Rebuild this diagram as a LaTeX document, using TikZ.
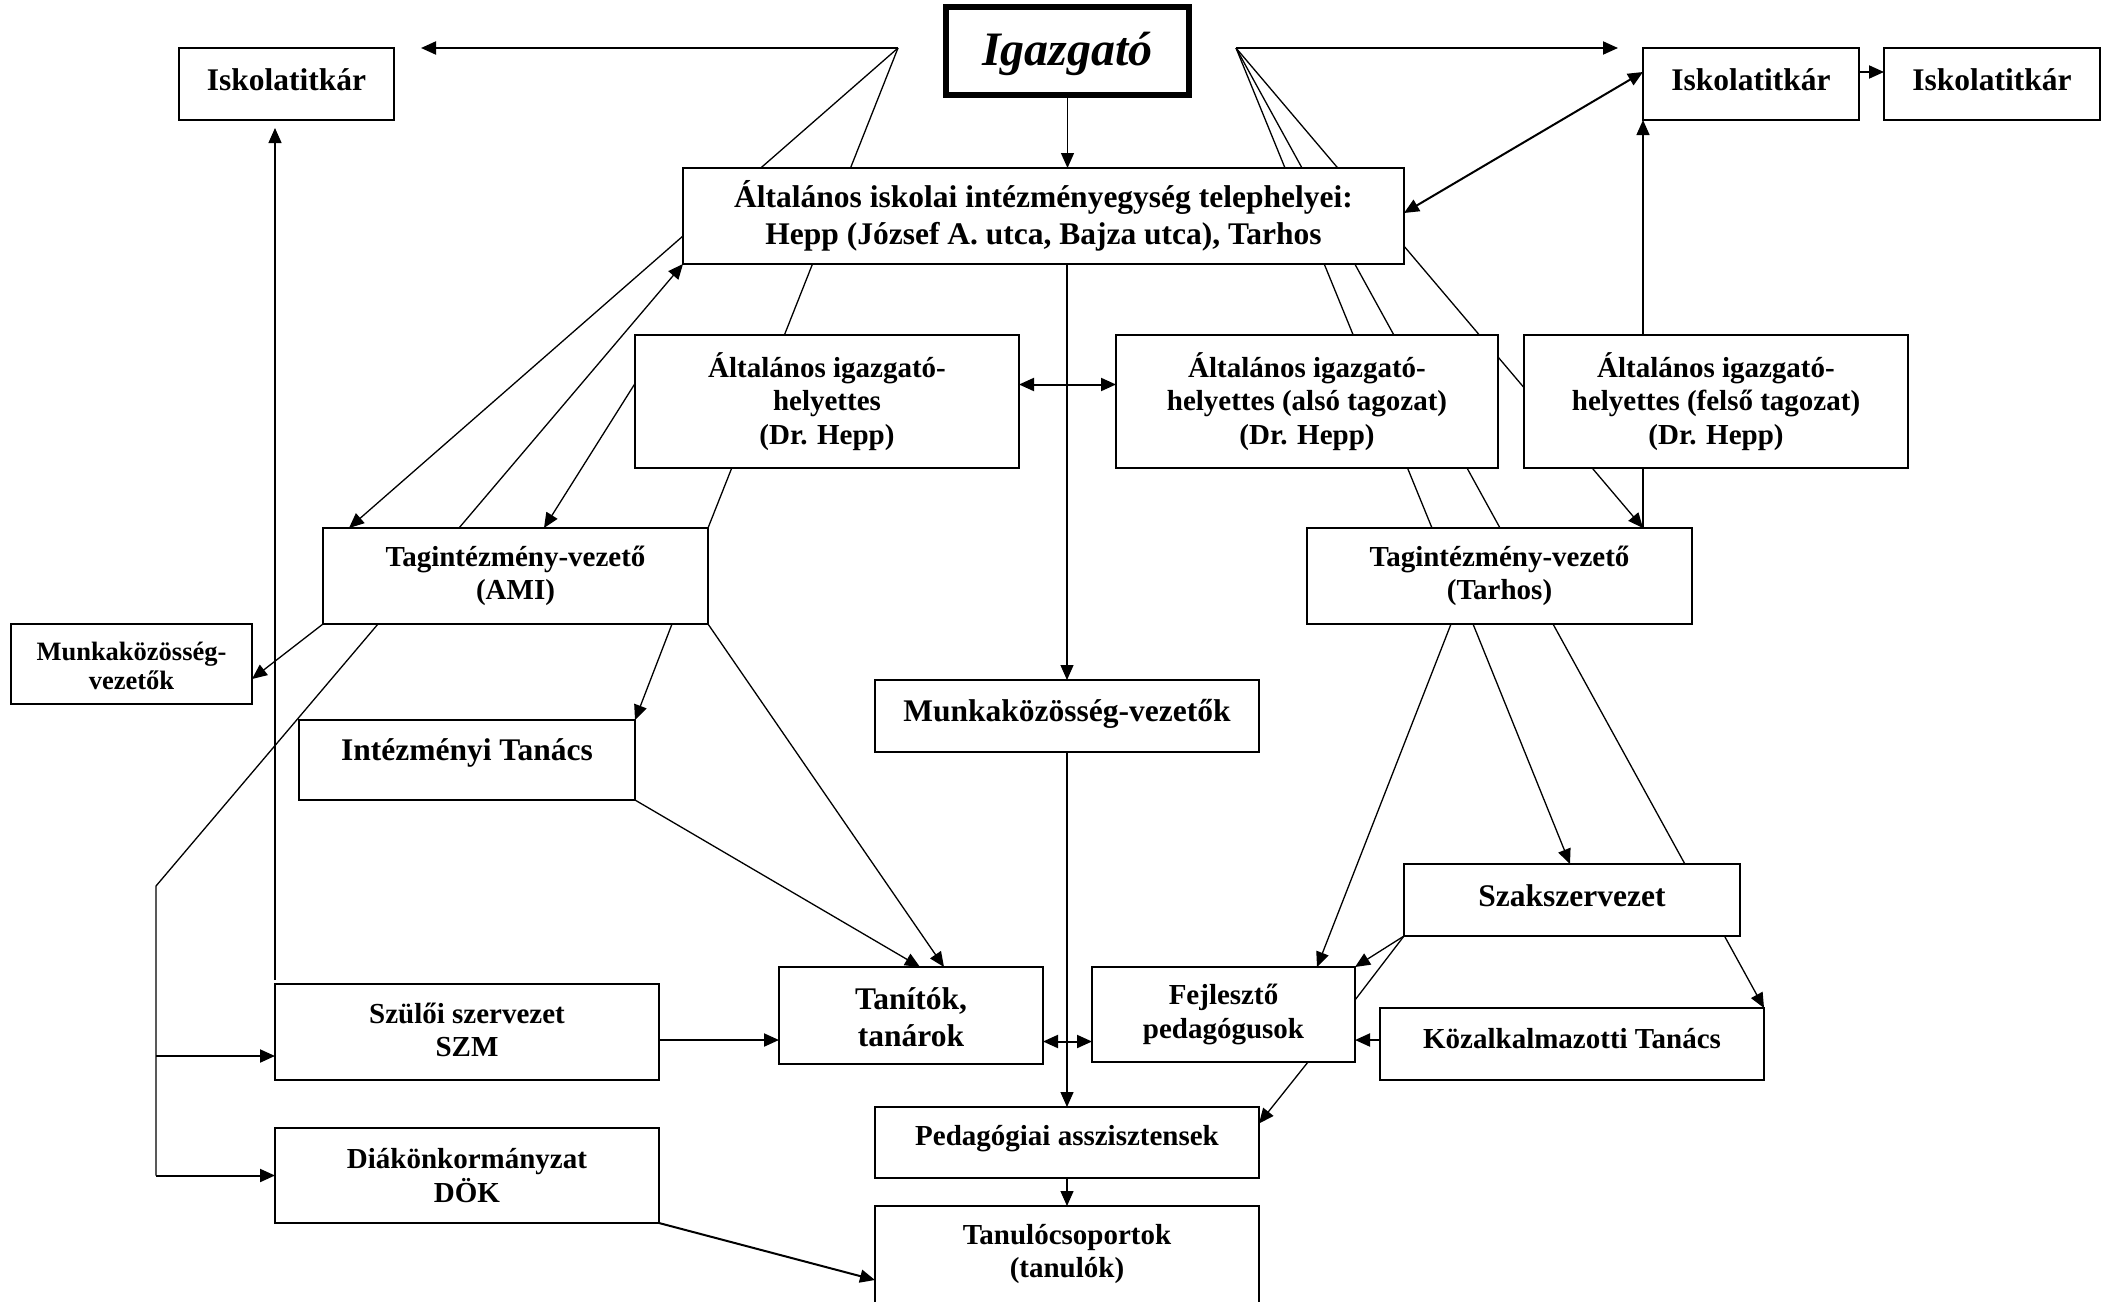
\documentclass[tikz,border=0pt]{standalone}
\usepackage{fontspec}
\setmainfont{Liberation Serif}
\usetikzlibrary{fit,arrows.meta,backgrounds}
\begin{document}
\begin{tikzpicture}[x=1pt,y=-1pt,
  box/.style={draw, fill=white, line width=2pt, inner sep=0pt, outer sep=0pt},
  txt/.style={font=\bfseries\fontsize{29}{33.7}\selectfont, align=center, inner sep=0pt},
  txtb/.style={txt, font=\bfseries\fontsize{31.5}{37.5}\selectfont},
  txts/.style={txt, font=\bfseries\fontsize{26.5}{29.6}\selectfont},
  thinln/.style={line width=1.3pt},
  thickln/.style={line width=2pt},
  arr/.style={-{Triangle[length=15pt,width=13pt]}},
  darr/.style={{Triangle[length=15pt,width=13pt]}-{Triangle[length=15pt,width=13pt]}}]
\useasboundingbox (0,0) rectangle (2111,1301);
\clip (0,0) rectangle (2111,1301);

% boxes
\node[box, line width=5.5pt, fit={(946,7) (1189,95)}] (igaz) {};
\node[box, fit={(179,48) (394,120)}] (isk1) {};
\node[box, fit={(1643,48) (1859,120)}] (isk2) {};
\node[box, fit={(1884,48) (2100,120)}] (isk3) {};
\node[box, fit={(683,168) (1404,264)}] (alt) {};
\node[box, fit={(635,335) (1019,468)}] (igh1) {};
\node[box, fit={(1116,335) (1498,468)}] (igh2) {};
\node[box, fit={(1524,335) (1908,468)}] (igh3) {};
\node[box, fit={(323,528) (708,624)}] (tagA) {};
\node[box, fit={(1307,528) (1692,624)}] (tagT) {};
\node[box, fit={(11,624) (252,704)}] (munkL) {};
\node[box, fit={(875,680) (1259,752)}] (munkC) {};
\node[box, fit={(299,720) (635,800)}] (int) {};
\node[box, fit={(1404,864) (1740,936)}] (szak) {};
\node[box, fit={(779,967) (1043,1064)}] (tan) {};
\node[box, fit={(1092,967) (1355,1062)}] (fej) {};
\node[box, fit={(1380,1008) (1764,1080)}] (kozalk) {};
\node[box, fit={(275,984) (659,1080)}] (szul) {};
\node[box, fit={(875,1107) (1259,1178)}] (ped) {};
\node[box, fit={(275,1128) (659,1223)}] (dok) {};
\node[box, fit={(875,1206) (1259,1340)}] (tcs) {};

% texts
\node[txt, font=\bfseries\itshape\fontsize{48}{56}\selectfont] (t-igaz) at ([yshift=-2.5pt]igaz.center) {Igazgató};
\node[txtb] (t-isk1) at ([yshift=4pt]isk1.center) {Iskolatitkár};
\node[txtb] (t-isk2) at ([yshift=4pt]isk2.center) {Iskolatitkár};
\node[txtb] (t-isk3) at ([yshift=4pt]isk3.center) {Iskolatitkár};
\node[txtb] (t-alt) at (alt.center) {Általános iskolai intézményegység telephelyei:\\Hepp (József A. utca, Bajza utca), Tarhos};
\node[txt] (t-igh1) at (igh1.center) {Általános igazgató-\\helyettes\\(Dr. Hepp)};
\node[txt] (t-igh2) at (igh2.center) {Általános igazgató-\\helyettes (alsó tagozat)\\(Dr. Hepp)};
\node[txt] (t-igh3) at (igh3.center) {Általános igazgató-\\helyettes (felső tagozat)\\(Dr. Hepp)};
\node[txt] (t-tagA) at (tagA.center) {Tagintézmény-vezető\\(AMI)};
\node[txt] (t-tagT) at (tagT.center) {Tagintézmény-vezető\\(Tarhos)};
\node[txts] (t-munkL) at ([yshift=-2pt]munkL.center) {Munkaközösség-\\vezetők};
\node[txtb] (t-munkC) at ([yshift=2.5pt]munkC.center) {Munkaközösség-vezetők};
\node[txtb] (t-int) at ([yshift=7pt]int.center) {Intézményi Tanács};
\node[txtb] (t-szak) at ([yshift=4.5pt]szak.center) {Szakszervezet};
\node[txtb] (t-tan) at ([yshift=-1.5pt]tan.center) {Tanítók,\\tanárok};
\node[txt] (t-fej) at (fej.center) {Fejlesztő\\pedagógusok};
\node[txt] (t-kozalk) at ([yshift=5.5pt]kozalk.center) {Közalkalmazotti Tanács};
\node[txt] (t-szul) at ([yshift=2pt]szul.center) {Szülői szervezet\\SZM};
\node[txt] (t-ped) at ([yshift=4pt]ped.center) {Pedagógiai asszisztensek};
\node[txt] (t-dok) at (dok.center) {Diákönkormányzat\\DÖK};
\node[txt] (t-tcs) at ([yshift=-48pt]tcs.north) {Tanulócsoportok\\(tanulók)};

% free points
\coordinate (srcL) at (898,48);
\coordinate (srcR) at (1236,48);
\coordinate (kneeL) at (156,886);
\coordinate (szulin) at ([yshift=-24pt]szul.west);
\coordinate (s2t) at ([yshift=-8pt]szul.east);
\coordinate (tf) at ([yshift=-26pt]tan.east);
\coordinate (kf) at ([yshift=4pt]kozalk.west);

\begin{scope}[on background layer]
\fill[white] (0,0) rectangle (2111,1301);
% top row
\draw[thickln,arr,shorten >=27pt] (srcL) -- (srcL -| isk1.east);
\draw[thickln,arr,shorten >=25pt] (srcR) -- (srcR -| isk2.west);
\draw[thinln,arr] (igaz.south) -- (igaz.south |- alt.north);
\draw[thickln,arr] ([yshift=12pt]isk2.east) -- ([yshift=12pt]isk3.west);
\draw[thickln,darr] ([yshift=3pt]alt.east) -- ([yshift=12pt]isk2.west);
\draw[thinln,arr] (isk2.west |- tagT.north) -- (isk2.south west);
% from the director, right side
\draw[thinln] (srcR) -- ([xshift=125pt]tagT.north west);
\draw[thinln] (srcR) -- ([xshift=193pt]tagT.north west);
\draw[thinln,arr] (srcR) -- (isk2.west |- tagT.north);
% from the director, left side
\draw[thinln,arr] (srcL) -- ([xshift=26pt]tagA.north west);
\draw[thinln,arr] (srcL) -- (tagA.north east) -- (tagA.south east) -- ([xshift=165pt]tan.north west);
\draw[thinln,arr] ([xshift=136pt]tagA.north west) -- (alt.south west);
\draw[thinln,arr] ([yshift=18pt]igh1.west) -- ([xshift=221pt]tagA.north west);
\draw[thickln,darr] ([yshift=17pt]igh1.east) -- ([yshift=17pt]igh2.west);
% centre column
\draw[thinln,arr] (munkC.north |- alt.south) -- (munkC.north);
\draw[thinln,arr] (munkC.south) -- (ped.north);
\draw[thinln,arr] (ped.south) -- (tcs.north);
% left part
\draw[thinln,arr] (tagA.south west) -- ([yshift=-15pt]munkL.east);
\draw[thinln,arr] ([xshift=-36pt]tagA.south east) -- (int.north east);
\draw[thinln] ([xshift=55pt]tagA.south west) -- (kneeL) -- (kneeL |- dok.west);
\draw[thickln,arr] (kneeL |- szulin) -- (szulin);
\draw[thickln,arr] (kneeL |- dok.west) -- (dok.west);
\draw[thinln,arr,shorten >=8pt] ([yshift=4pt]szul.north west) -- (szul.north west |- isk1.south);
\draw[thinln,arr] (int.south east) -- ([xshift=141pt]tan.north west);
\draw[thickln,arr] (s2t) -- (s2t -| tan.west);
\draw[thickln,darr] (tf) -- (tf -| fej.west);
\draw[thickln,arr] (dok.south east) -- ([yshift=-74pt]tcs.north west);
% right part
\draw[thinln,arr] ([xshift=-47pt]fej.south east) -- ([yshift=19pt]ped.east);
\draw[thickln,arr] (kf) -- (kf -| fej.east);
\draw[thinln,arr] ([xshift=144pt]tagT.south west) -- ([xshift=225pt]fej.north west);
\draw[thinln,arr] ([xshift=166pt]tagT.south west) -- ([xshift=166pt]szak.north west);
\draw[thinln,arr] ([xshift=246pt]tagT.south west) -- (kozalk.north east);
\draw[thinln,arr] (szak.south west) -- (fej.north east);
\draw[thinln] (szak.south west) -- ([yshift=14.5pt]fej.east);
\end{scope}
\end{tikzpicture}
\end{document}
